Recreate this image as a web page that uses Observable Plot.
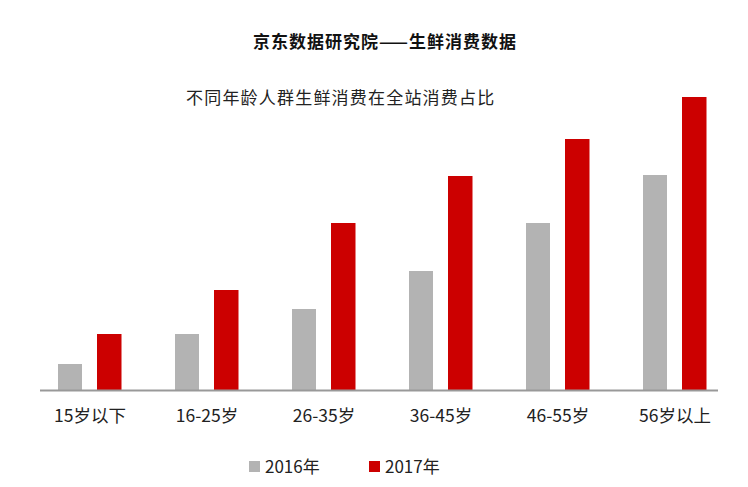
<!DOCTYPE html>
<html>
<head>
<meta charset="utf-8">
<script src="https://cdn.jsdelivr.net/npm/d3@7"></script>
<script src="https://cdn.jsdelivr.net/npm/@observablehq/plot@0.6"></script>
<style>
  html, body { margin: 0; padding: 0; background: #fff; }
  body { font-family: "Noto Sans CJK SC", "Noto Sans", sans-serif; }
  #wrap { position: relative; width: 748px; height: 487px; overflow: hidden; }
  #chart { position: absolute; left: 0; top: 0; }
  .title { position: absolute; left: 0; width: 770px; top: 28px; text-align: center; font-size: 17px; font-weight: bold; color: #111; letter-spacing: 1px; }
  .subtitle { position: absolute; left: 186px; top: 84px; font-size: 17px; color: #222; letter-spacing: 1.2px; }
  .legend { position: absolute; top: 453px; left: 0; font-size: 17px; color: #222; }
  .legend span.item { position: absolute; white-space: nowrap; }
  .legend span.sw { display: inline-block; width: 11px; height: 11px; vertical-align: middle; margin-right: 5px; position: relative; top: -2px; }
</style>
</head>
<body>
<div id="wrap">
  <div id="chart"></div>
  <div class="title" id="title"></div>
  <div class="subtitle" id="subtitle"></div>
  <div class="legend" id="legend"></div>
</div>
<script>
const titleText = "京东数据研究院——生鲜消费数据";
const subtitleText = "不同年龄人群生鲜消费在全站消费占比";
const categories = ["15岁以下", "16-25岁", "26-35岁", "36-45岁", "46-55岁", "56岁以上"];
const series = ["2016年", "2017年"];
const values2016 = [26, 56, 81, 119, 167, 215];
const values2017 = [56, 100, 167, 214, 251, 293];
const colors = ["#b3b3b3", "#cc0000"];

const table = categories.map((c, i) => ({group: c, v2016: values2016[i], v2017: values2017[i]}));

document.getElementById("title").textContent = titleText;
document.getElementById("subtitle").textContent = subtitleText;

const chart = Plot.plot({
  width: 748,
  height: 487,
  marginLeft: 40,
  marginRight: 30,
  marginTop: 90,
  marginBottom: 97,
  style: {fontFamily: "'Noto Sans CJK SC', sans-serif", background: "#fff"},
  x: {type: "band", domain: categories, range: [30, 733], padding: 0},
  y: {domain: [0, 300], axis: null},
  marks: [
    Plot.barY(table, {x: "group", y: "v2016", fill: colors[0], insetLeft: 27, insetRight: 66}),
    Plot.barY(table, {x: "group", y: "v2017", fill: colors[1], insetLeft: 66, insetRight: 26.5}),
    Plot.ruleY([0], {stroke: "#999", strokeWidth: 2}),
    Plot.axisX({tickSize: 0, tickPadding: 19, fontSize: 17.5, fill: "#222", label: null})
  ]
});
document.getElementById("chart").appendChild(chart);

const legend = document.getElementById("legend");
const lx = [249, 369];
series.forEach((s, i) => {
  const item = document.createElement("span");
  item.className = "item";
  item.style.left = lx[i] + "px";
  const sw = document.createElement("span");
  sw.className = "sw";
  sw.style.background = colors[i];
  item.appendChild(sw);
  item.appendChild(document.createTextNode(s));
  legend.appendChild(item);
});
</script>
</body>
</html>
